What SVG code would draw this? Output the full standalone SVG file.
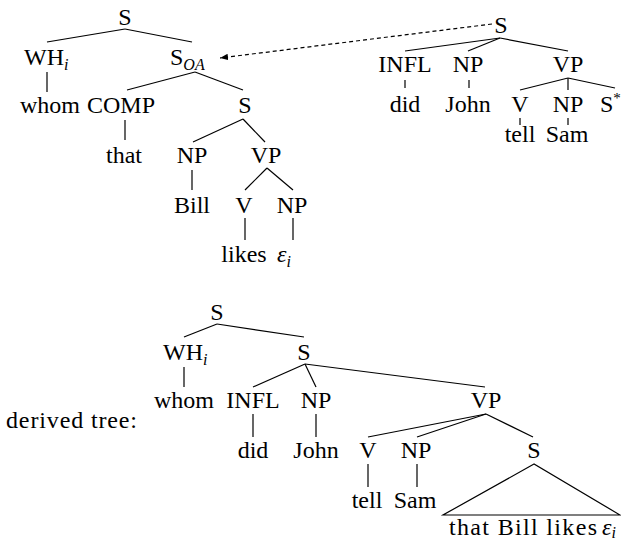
<svg xmlns="http://www.w3.org/2000/svg" width="621" height="542" viewBox="0 0 621 542">
<style>
.t{font-family:'Liberation Serif',serif;font-size:24px;fill:#000}
.m{text-anchor:middle}
.it{font-style:italic}
.sub{font-size:16px;font-style:italic}
.sup{font-size:15px}
#connectors line,#connectors polygon{stroke:#000;stroke-width:1.2;fill:none}
#connectors .dash{stroke-dasharray:4 3}
</style>
<defs>
<marker id="ah" viewBox="0 0 10 10" refX="10" refY="5" markerWidth="8" markerHeight="8" markerUnits="userSpaceOnUse" orient="auto">
<path d="M0,1 L10,5 L0,9 z" fill="#000"/>
</marker>
</defs>
<rect width="621" height="542" fill="#fff"/>
<g id="connectors">
<line x1="125" y1="29" x2="47" y2="42"/>
<line x1="125" y1="29" x2="192" y2="42"/>
<line x1="47" y1="72" x2="47" y2="92"/>
<line x1="195" y1="72" x2="127" y2="90"/>
<line x1="195" y1="72" x2="243" y2="90"/>
<line x1="125" y1="120" x2="125" y2="140"/>
<line x1="243" y1="119" x2="193" y2="142"/>
<line x1="243" y1="119" x2="265" y2="142"/>
<line x1="192" y1="170" x2="192" y2="190"/>
<line x1="267" y1="168" x2="245" y2="190"/>
<line x1="267" y1="168" x2="293" y2="190"/>
<line x1="245" y1="218" x2="245" y2="240"/>
<line x1="293" y1="218" x2="293" y2="240"/>
<line class="dash" x1="492" y1="24" x2="220" y2="58" marker-end="url(#ah)"/>
<line x1="500" y1="38" x2="405" y2="51"/>
<line x1="500" y1="38" x2="468" y2="51"/>
<line x1="500" y1="38" x2="568" y2="51"/>
<line x1="405" y1="80" x2="405" y2="88"/>
<line x1="469" y1="80" x2="469" y2="88"/>
<line x1="568" y1="78" x2="520" y2="90"/>
<line x1="568" y1="78" x2="568" y2="90"/>
<line x1="568" y1="78" x2="615" y2="88"/>
<line x1="520" y1="118" x2="520" y2="125"/>
<line x1="568" y1="118" x2="568" y2="125"/>
<line x1="217" y1="324" x2="184" y2="337"/>
<line x1="217" y1="324" x2="304" y2="337"/>
<line x1="184" y1="367" x2="184" y2="387"/>
<line x1="305" y1="364" x2="253" y2="387"/>
<line x1="305" y1="364" x2="316" y2="387"/>
<line x1="305" y1="364" x2="485" y2="387"/>
<line x1="253" y1="414" x2="253" y2="437"/>
<line x1="316" y1="414" x2="316" y2="437"/>
<line x1="486" y1="414" x2="368" y2="437"/>
<line x1="486" y1="414" x2="417" y2="437"/>
<line x1="486" y1="414" x2="533" y2="437"/>
<line x1="368" y1="464" x2="368" y2="487"/>
<line x1="417" y1="464" x2="417" y2="487"/>
<polygon points="534,464 443,515 620,515"/>
</g>
<g id="t1-S"><text class="t m" x="125" y="25">S</text></g>
<g id="t1-WH"><text class="t" x="24" y="65">WH<tspan class="sub" dy="5">i</tspan></text></g>
<g id="t1-SOA"><text class="t" x="170" y="65">S<tspan class="sub" dy="5">OA</tspan></text></g>
<g id="t1-whom"><text class="t m" x="50" y="113">whom</text></g>
<g id="t1-COMP"><text class="t m" x="121" y="113">COMP</text></g>
<g id="t1-S2"><text class="t m" x="245" y="113">S</text></g>
<g id="t1-that"><text class="t m" x="124" y="163">that</text></g>
<g id="t1-NP"><text class="t m" x="192" y="163">NP</text></g>
<g id="t1-VP"><text class="t m" x="266" y="163">VP</text></g>
<g id="t1-Bill"><text class="t m" x="192" y="213">Bill</text></g>
<g id="t1-V"><text class="t m" x="244" y="213">V</text></g>
<g id="t1-NP2"><text class="t m" x="292" y="213">NP</text></g>
<g id="t1-likes"><text class="t m" x="244" y="262">likes</text></g>
<g id="t1-eps"><text class="t" x="277" y="262"><tspan class="it">ε</tspan><tspan class="sub" dy="5">i</tspan></text></g>
<g id="t2-S"><text class="t m" x="501" y="33">S</text></g>
<g id="t2-INFL"><text class="t m" x="405" y="72">INFL</text></g>
<g id="t2-NP"><text class="t m" x="468" y="72">NP</text></g>
<g id="t2-VP"><text class="t m" x="568" y="72">VP</text></g>
<g id="t2-did"><text class="t m" x="405" y="112">did</text></g>
<g id="t2-John"><text class="t m" x="468" y="112">John</text></g>
<g id="t2-V"><text class="t m" x="520" y="112">V</text></g>
<g id="t2-NP2"><text class="t m" x="568" y="112">NP</text></g>
<g id="t2-Sstar"><text class="t" x="600" y="112">S<tspan class="sup" dy="-9">*</tspan></text></g>
<g id="t2-tell"><text class="t m" x="520" y="142">tell</text></g>
<g id="t2-Sam"><text class="t m" x="567" y="142">Sam</text></g>
<g id="label"><text class="t" x="6" y="428" textLength="131" lengthAdjust="spacing">derived tree:</text></g>
<g id="t3-S"><text class="t m" x="217" y="320">S</text></g>
<g id="t3-WH"><text class="t" x="163" y="360">WH<tspan class="sub" dy="5">i</tspan></text></g>
<g id="t3-S2"><text class="t m" x="304" y="360">S</text></g>
<g id="t3-whom"><text class="t m" x="184" y="408">whom</text></g>
<g id="t3-INFL"><text class="t m" x="253" y="408">INFL</text></g>
<g id="t3-NP"><text class="t m" x="316" y="408">NP</text></g>
<g id="t3-VP"><text class="t m" x="486" y="408">VP</text></g>
<g id="t3-did"><text class="t m" x="253" y="458">did</text></g>
<g id="t3-John"><text class="t m" x="316" y="458">John</text></g>
<g id="t3-V"><text class="t m" x="368" y="458">V</text></g>
<g id="t3-NP2"><text class="t m" x="416" y="458">NP</text></g>
<g id="t3-S3"><text class="t m" x="534" y="458">S</text></g>
<g id="t3-tell"><text class="t m" x="367" y="508">tell</text></g>
<g id="t3-Sam"><text class="t m" x="415" y="508">Sam</text></g>
<g id="t3-yield"><text class="t" x="449" y="535" textLength="148" lengthAdjust="spacing">that Bill likes</text><text class="t" x="602" y="535"><tspan class="it">ε</tspan><tspan class="sub" dy="3">i</tspan></text></g>
</svg>
